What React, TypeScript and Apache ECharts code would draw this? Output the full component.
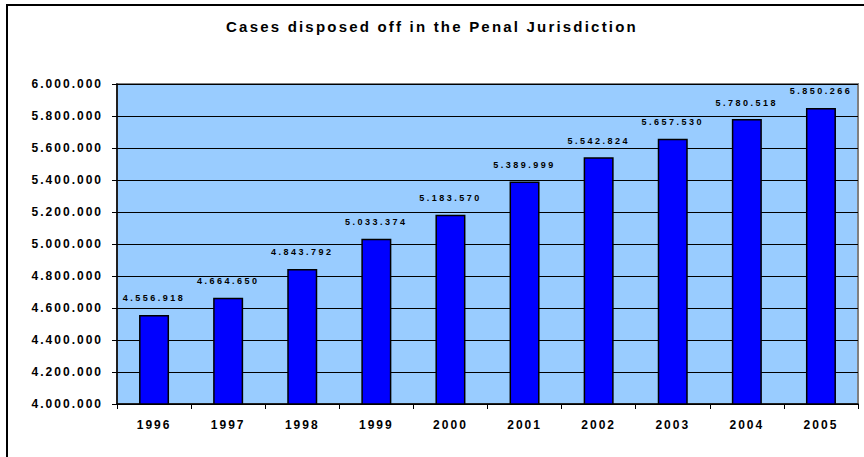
import React, { useEffect, useRef } from "react";
import * as echarts from "echarts";

const titleText = "Cases disposed off in the Penal Jurisdiction";
const years = ["1996", "1997", "1998", "1999", "2000", "2001", "2002", "2003", "2004", "2005"];
const cases = [4556918, 4664650, 4843792, 5033374, 5183570, 5389999, 5542824, 5657530, 5780518, 5850266];
const yMin = 4000000;
const yMax = 6000000;
const yStep = 200000;

const fmt = (v: number) => String(Math.round(v)).replace(/\B(?=(\d{3})+(?!\d))/g, ".");

const FONT = "'Liberation Sans', Arial, sans-serif";

export default function App() {
  const ref = useRef<HTMLDivElement>(null);
  useEffect(() => {
    if (!ref.current) return;
    const chart = echarts.init(ref.current, undefined, { renderer: "svg" });
    chart.setOption({
      animation: false,
      backgroundColor: "#ffffff",
      title: {
        text: titleText,
        left: "center",
        top: 14,
        textStyle: { fontFamily: FONT, fontSize: 15, fontWeight: "bold", color: "#000" },
      },
      graphic: [
        {
          type: "rect",
          shape: { x: 7, y: 5, width: 900, height: 500 },
          style: { fill: "none", stroke: "#000", lineWidth: 2 },
          silent: true,
          z: 100,
        },
      ],
      grid: {
        left: 117,
        right: 6,
        top: 84,
        bottom: 53,
        show: true,
        backgroundColor: "#99ccff",
        borderColor: "#808080",
        borderWidth: 2,
      },
      xAxis: {
        type: "category",
        data: years,
        axisLine: { show: true, lineStyle: { color: "#000", width: 1.5 } },
        axisTick: { show: true, length: 5, lineStyle: { color: "#000", width: 1 } },
        axisLabel: { fontFamily: FONT, fontSize: 12, fontWeight: "bold", color: "#000", margin: 15 },
        z: 10,
      },
      yAxis: {
        type: "value",
        min: yMin,
        max: yMax,
        interval: yStep,
        axisLine: { show: true, lineStyle: { color: "#000", width: 1.5 } },
        axisTick: { show: true, length: 5, lineStyle: { color: "#000", width: 1 } },
        axisLabel: {
          fontFamily: FONT,
          fontSize: 12,
          fontWeight: "bold",
          color: "#000",
          margin: 14,
          formatter: (v: number) => fmt(v),
        },
        splitLine: { show: true, lineStyle: { color: "#000", width: 1 } },
        z: 10,
      },
      series: [
        {
          type: "bar",
          data: cases,
          barWidth: 30,
          itemStyle: { color: "#0000ff", borderColor: "#000", borderWidth: 1.5 },
          label: {
            show: true,
            position: "top",
            distance: 12,
            fontFamily: FONT,
            fontSize: 9,
            fontWeight: "bold",
            color: "#000",
            formatter: (p: any) => fmt(p.value),
          },
          z: 20,
        },
      ],
    });
    return () => chart.dispose();
  }, []);
  return (
    <>
      <style>{`
        #chartbox svg text[style*="15px"] { letter-spacing: 2.2px; }
        #chartbox svg text[style*="12px"] { letter-spacing: 2px; }
        #chartbox svg text[style*="9px"] { letter-spacing: 2.5px; }
      `}</style>
      <div
        id="chartbox"
        ref={ref}
        style={{ position: "fixed", left: 0, top: 0, width: 864, height: 457 }}
      />
    </>
  );
}
